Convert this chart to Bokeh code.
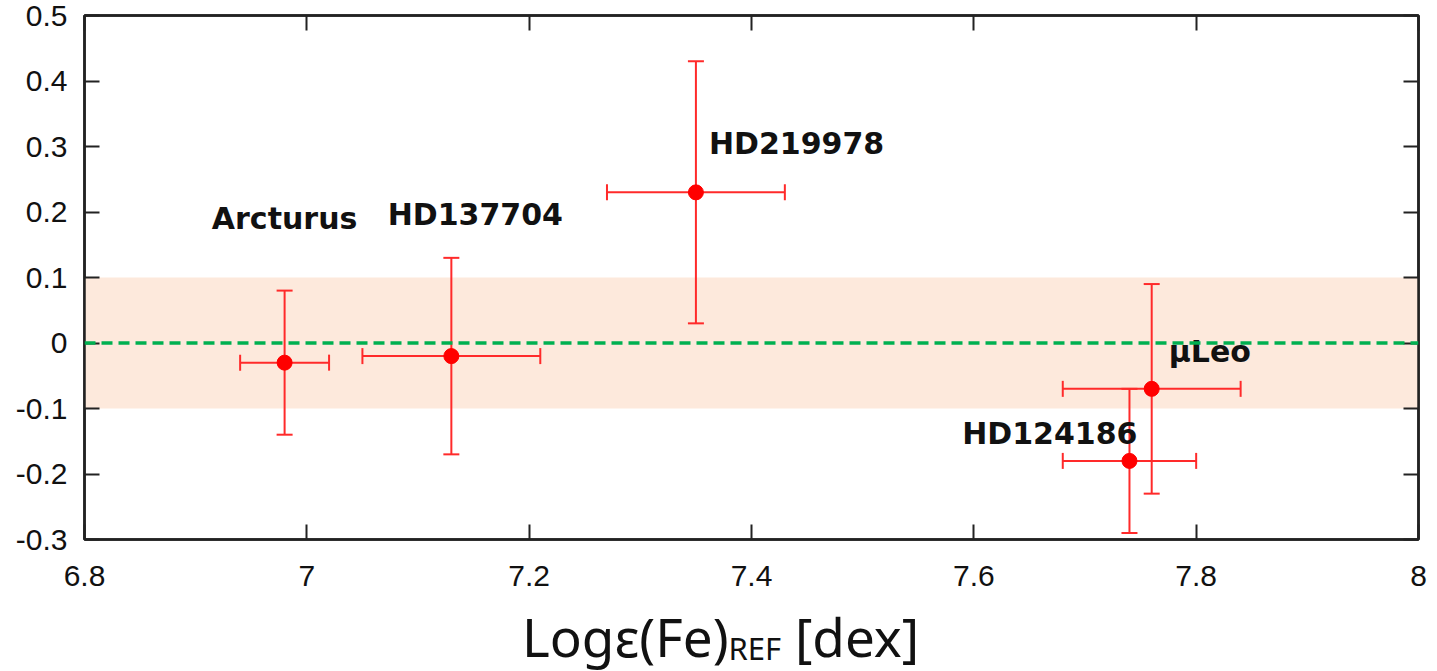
from bokeh.plotting import figure
from bokeh.models import (ColumnDataSource, Whisker, TeeHead, BoxAnnotation, Span,
                          LinearAxis, FixedTicker, Range1d, Div, CustomJSTickFormatter)
from bokeh.layouts import column
from bokeh.core.properties import value
from bokeh.embed import file_html
from bokeh.resources import INLINE

# ---- data ----
stars = ["Arcturus", "HD137704", "HD219978", "μLeo", "HD124186"]
logeps_ref = [6.98, 7.13, 7.35, 7.76, 7.74]
x_err = [0.04, 0.08, 0.08, 0.08, 0.06]
delta = [-0.03, -0.02, 0.23, -0.07, -0.18]
y_err = [0.11, 0.15, 0.20, 0.16, 0.11]

x_ticks = [6.8, 7.0, 7.2, 7.4, 7.6, 7.8, 8.0]
x_tick_labels = ["6.8", "7", "7.2", "7.4", "7.6", "7.8", "8"]
y_ticks = [-0.3, -0.2, -0.1, 0.0, 0.1, 0.2, 0.3, 0.4, 0.5]
y_tick_labels = ["-0.3", "-0.2", "-0.1", "0", "0.1", "0.2", "0.3", "0.4", "0.5"]
band_low, band_high = -0.1, 0.1

# label placement (pixel offsets from each point) and alignment
lab_dx = [0, 24, 13, 17, 8]
lab_dy = [-144, -142, -49, -37, -27]
lab_align = ["center", "center", "left", "left", "right"]

src = ColumnDataSource(dict(
    x=logeps_ref, y=delta,
    xl=[a - b for a, b in zip(logeps_ref, x_err)],
    xu=[a + b for a, b in zip(logeps_ref, x_err)],
    yl=[a - b for a, b in zip(delta, y_err)],
    yu=[a + b for a, b in zip(delta, y_err)],
    name=stars, dx=lab_dx, dy=lab_dy, align=lab_align,
))

p = figure(width=1437, height=600, output_backend="svg", toolbar_location=None,
           x_range=Range1d(6.8, 8.0), y_range=Range1d(-0.3, 0.5),
           min_border_left=84, min_border_right=19, min_border_top=15, min_border_bottom=61)
p.grid.visible = False
p.background_fill_color = "white"
p.border_fill_color = "white"
p.outline_line_color = "#222222"
p.outline_line_width = 2.5

RED = "#ff2a2a"

p.add_layout(BoxAnnotation(bottom=band_low, top=band_high, fill_color="#fde9dc",
                           fill_alpha=1.0, line_color=None, level="underlay"))
p.add_layout(Span(location=0, dimension="width", line_color="#00b050",
                  line_width=3.5, line_dash="11 6"))

head = dict(size=16, line_color=RED, line_width=2)
p.add_layout(Whisker(source=src, base="x", lower="yl", upper="yu", dimension="height",
                     line_color=RED, line_width=2,
                     lower_head=TeeHead(**head), upper_head=TeeHead(**head)))
p.add_layout(Whisker(source=src, base="y", lower="xl", upper="xu", dimension="width",
                     line_color=RED, line_width=2,
                     lower_head=TeeHead(**head), upper_head=TeeHead(**head)))
p.scatter("x", "y", source=src, size=15, color="#ff0000")

p.text("x", "y", text="name", source=src, x_offset="dx", y_offset="dy",
       text_align="align", text_baseline="middle",
       text_font=value("DejaVu Sans"), text_font_style="bold",
       text_font_size="30px", text_color="#111111")

# axes
bottom = p.below[0]
left = p.left[0]
bottom.ticker = FixedTicker(ticks=x_ticks)
left.ticker = FixedTicker(ticks=y_ticks)
bottom.major_label_overrides = dict(zip(x_ticks, x_tick_labels))
left.major_label_overrides = dict(zip(y_ticks, y_tick_labels))

top = LinearAxis(ticker=FixedTicker(ticks=x_ticks))
right = LinearAxis(ticker=FixedTicker(ticks=y_ticks))
p.add_layout(top, "above")
p.add_layout(right, "right")

for ax in (bottom, left, top, right):
    ax.axis_line_color = "#222222"
    ax.axis_line_width = 2.5
    ax.major_tick_in = 15
    ax.major_tick_out = 0
    ax.major_tick_line_color = "#222222"
    ax.major_tick_line_width = 2
    ax.minor_tick_line_color = None
    ax.major_label_text_font = "Liberation Sans"
    ax.major_label_text_font_size = "30px"
    ax.major_label_text_color = "#111111"
for ax in (top, right):
    ax.formatter = CustomJSTickFormatter(code="return '';")
    ax.major_label_standoff = 0
bottom.major_label_standoff = 26
left.major_label_standoff = 17

xlabel = Div(
    text='<div style="margin-left:522px; padding-top:3px; font-family:\'Noto Sans\'; '
         'font-size:53px; line-height:67px; height:67px; white-space:nowrap; color:#111">'
         'Logε(Fe)<span style="font-size:31px; position:relative; top:3px">REF</span>'
         ' [dex]</div>',
    width=1437, height=71, margin=(0, 0, 0, 0))

layout = column(p, xlabel, spacing=0)
open("out.html", "w").write(file_html(layout, INLINE))
